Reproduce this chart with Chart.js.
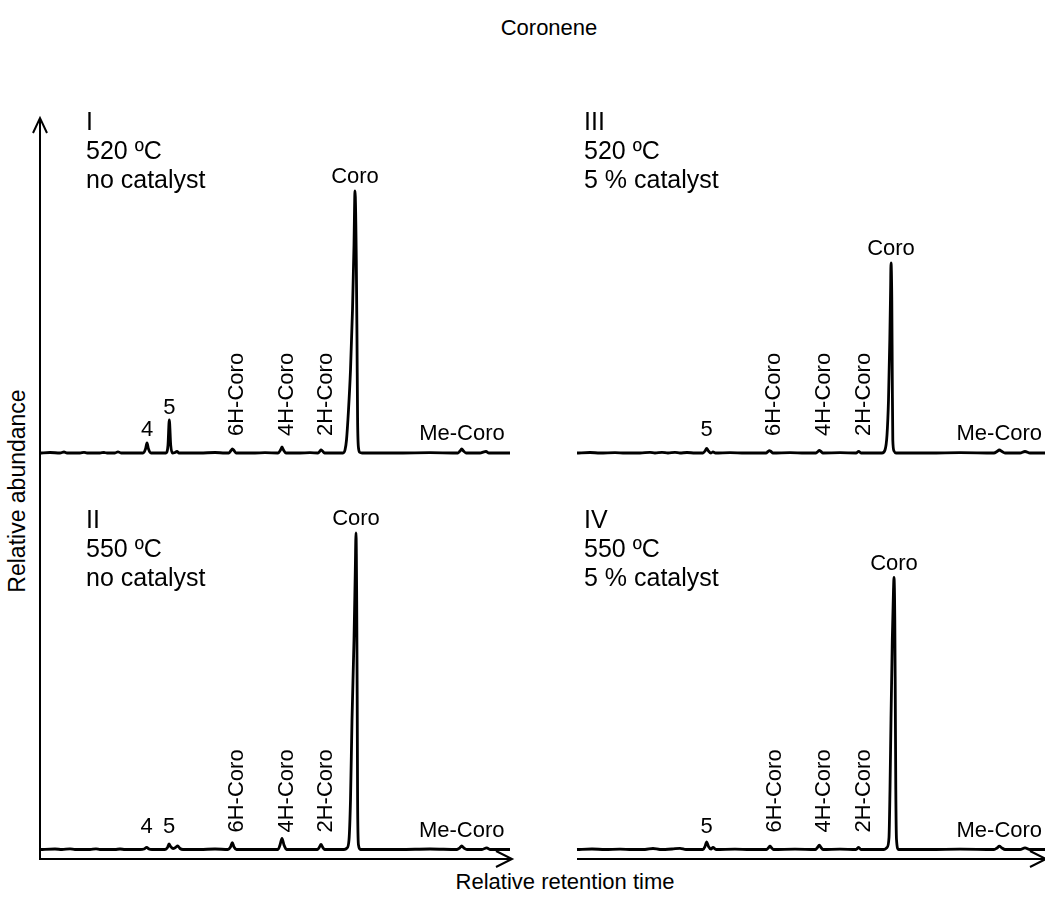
<!DOCTYPE html>
<html>
<head>
<meta charset="utf-8">
<title>Coronene</title>
<script src="https://cdn.jsdelivr.net/npm/chart.js@4.4.1/dist/chart.umd.min.js"></script>
<style>
  html, body { margin: 0; padding: 0; background: #fff; overflow: hidden; }
  #figure { position: relative; width: 1045px; height: 899px; overflow: hidden;
            font-family: Arial, 'Liberation Sans', sans-serif; color: #000; }
  #figure canvas { position: absolute; }
  .txt { position: absolute; white-space: nowrap; }
  .title { left: 549px; top: 28px; font-size: 22px; line-height: 22px; transform: translate(-50%, -50%); }
  .ytitle { left: 17px; top: 491px; font-size: 23px; line-height: 23px; transform: translate(-50%, -50%) rotate(-90deg); }
  .xtitle { left: 565px; top: 882px; font-size: 22px; line-height: 22px; transform: translate(-50%, -50%); }
  .head { font-size: 25px; line-height: 29px; }
</style>
</head>
<body>
<div id="figure">
  <div class="txt title">Coronene</div>
  <div class="txt ytitle">Relative abundance</div>
  <div class="txt xtitle">Relative retention time</div>
</div>
<script>
// Chromatograms: [retention time (min), abundance (% of run II Coro peak)]
const runI = [
  [0.0, 0], [1.0, 0.16], [2.0, 0], [2.4, 0.32], [2.7, 0], [4.0, 0], [4.4, 0.22], [4.7, 0],
  [6.0, 0], [6.4, 0.16], [6.7, 0], [7.5, 0], [7.8, 0.38], [8.1, 0], [9.5, 0],
  [10.3, 0], [10.55, 1.26], [10.7, 3.15], [10.85, 1.26], [11.1, 0], [12.0, 0],
  [12.6, 0], [12.8, 2.52], [12.93, 10.41], [13.07, 2.52], [13.25, 0], [13.5, 0.16], [13.7, 0.47], [13.9, 0],
  [16.0, 0], [17.5, 0.16], [18.5, 0], [18.9, 0], [19.1, 0.79], [19.23, 1.26], [19.4, 0.79], [19.6, 0],
  [21.5, 0], [22.5, 0.09], [23.8, 0], [24.05, 0.95], [24.2, 1.89], [24.35, 0.95], [24.6, 0],
  [26.0, 0], [27.0, 0.09], [27.8, 0], [28.0, 0.63], [28.1, 0.95], [28.25, 0.63], [28.45, 0], [29.5, 0], [30.0, 0],
  [30.3, 0], [30.5, 0.95], [30.65, 4.10], [30.85, 13.56], [31.05, 26.18], [31.25, 45.11], [31.4, 65.62],
  [31.5, 82.65], [31.63, 60.88], [31.7, 35.65], [31.76, 10.41], [31.85, 1.58], [32.0, 0.16], [32.2, 0],
  [36.0, 0], [39.0, 0.09], [41.5, 0], [41.8, 0], [42.0, 0.63], [42.17, 1.26], [42.35, 0.63], [42.6, 0],
  [44.0, 0], [44.4, 0.38], [44.6, 0.47], [44.9, 0], [46.0, 0], [47.0, 0]
];
const runII = [
  [0.0, 0], [1.5, 0.16], [2.2, 0], [3.0, 0.22], [3.5, 0], [5.0, 0], [5.6, 0.22], [6.0, 0],
  [7.5, 0], [8.0, 0.16], [8.5, 0], [10.0, 0], [10.4, 0.16], [10.67, 0.69], [10.9, 0.16], [11.2, 0],
  [12.5, 0], [12.75, 0.63], [12.9, 1.74], [13.05, 0.95], [13.3, 0.32], [13.55, 0.63], [13.77, 1.10], [14.0, 0.32], [14.3, 0],
  [16.0, 0], [17.5, 0.16], [18.8, 0], [19.05, 0.79], [19.23, 2.15], [19.4, 0.79], [19.65, 0],
  [22.0, 0], [23.8, 0], [24.0, 1.42], [24.2, 3.53], [24.4, 1.42], [24.65, 0],
  [26.0, 0], [27.75, 0], [27.95, 0.79], [28.1, 1.64], [28.25, 0.79], [28.45, 0], [30.0, 0],
  [30.4, 0], [30.7, 0.47], [30.9, 3.00], [31.05, 15.62], [31.2, 40.85], [31.4, 66.09], [31.53, 88.17],
  [31.6, 99.84], [31.67, 78.71], [31.72, 47.16], [31.76, 15.62], [31.85, 1.42], [32.05, 0],
  [36.0, 0], [39.0, 0.16], [41.7, 0], [41.95, 0.47], [42.17, 1.10], [42.4, 0.47], [42.7, 0],
  [44.2, 0], [44.67, 0.54], [45.0, 0], [47.0, 0]
];
const runIII = [
  [0.0, 0], [1.3, 0.16], [2.3, 0], [3.8, 0.13], [4.8, 0], [6.3, 0], [7.3, 0.22], [7.8, 0],
  [8.5, 0.19], [9.1, 0], [9.8, 0.22], [10.3, 0], [11.0, 0.16], [11.8, 0],
  [12.6, 0], [12.8, 0.63], [12.97, 1.48], [13.15, 0.63], [13.4, 0], [13.6, 0.32], [13.85, 0],
  [15.3, 0.13], [16.8, 0], [18.9, 0], [19.1, 0.47], [19.23, 0.73], [19.4, 0.47], [19.6, 0],
  [21.3, 0.13], [22.8, 0], [23.9, 0], [24.1, 0.47], [24.23, 0.79], [24.4, 0.47], [24.6, 0],
  [26.3, 0.09], [27.9, 0], [28.17, 0.54], [28.4, 0], [29.8, 0],
  [30.5, 0], [30.8, 0.95], [31.0, 5.68], [31.15, 16.72], [31.28, 35.65], [31.36, 51.42],
  [31.4, 59.94], [31.48, 48.26], [31.53, 23.03], [31.58, 4.10], [31.7, 0.63], [31.9, 0],
  [35.3, 0], [38.3, 0.13], [41.7, 0], [42.0, 0.47], [42.23, 0.95], [42.5, 0.47], [42.8, 0],
  [44.3, 0], [44.8, 0.47], [45.3, 0], [47.0, 0]
];
const runIV = [
  [0.0, 0], [1.5, 0.16], [2.8, 0], [4.3, 0.13], [5.5, 0], [6.8, 0], [7.6, 0.32], [8.3, 0],
  [9.5, 0.16], [10.3, 0.38], [10.9, 0],
  [12.6, 0], [12.8, 0.95], [12.97, 2.43], [13.15, 0.95], [13.4, 0.16], [13.6, 0.63], [13.9, 0],
  [15.8, 0.13], [17.3, 0], [18.95, 0], [19.15, 0.54], [19.3, 1.04], [19.45, 0.54], [19.65, 0],
  [21.8, 0.13], [23.85, 0], [24.05, 0.63], [24.23, 1.36], [24.4, 0.63], [24.6, 0],
  [26.3, 0.13], [27.9, 0], [28.17, 0.63], [28.4, 0], [30.1, 0],
  [30.7, 0], [31.0, 0.63], [31.2, 3.79], [31.3, 18.93], [31.4, 41.01], [31.53, 66.25], [31.65, 82.02],
  [31.7, 85.80], [31.78, 72.56], [31.83, 47.32], [31.88, 18.93], [31.95, 3.15], [32.15, 0],
  [35.3, 0], [38.3, 0.13], [41.7, 0], [42.0, 0.47], [42.23, 1.04], [42.5, 0.47], [42.8, 0],
  [44.3, 0], [44.8, 0.54], [45.3, 0], [47.0, 0]
];

// Peak assignments: [name, retention time]
const peaksI = [['4', 10.7], ['5', 12.93], ['6H-Coro', 19.23], ['4H-Coro', 24.2], ['2H-Coro', 28.1], ['Coro', 31.5], ['Me-Coro', 42.2]];
const peaksII = [['4', 10.67], ['5', 12.9], ['6H-Coro', 19.23], ['4H-Coro', 24.2], ['2H-Coro', 28.1], ['Coro', 31.6], ['Me-Coro', 42.17]];
const peaksIII = [['5', 12.97], ['6H-Coro', 19.23], ['4H-Coro', 24.23], ['2H-Coro', 28.17], ['Coro', 31.4], ['Me-Coro', 42.23]];
const peaksIV = [['5', 12.97], ['6H-Coro', 19.3], ['4H-Coro', 24.23], ['2H-Coro', 28.17], ['Coro', 31.7], ['Me-Coro', 42.23]];

// Run conditions
const runNames = ['I', 'II', 'III', 'IV'];
const temperatures = ['520 ºC', '550 ºC', '520 ºC', '550 ºC'];
const catalysts = ['no catalyst', 'no catalyst', '5 % catalyst', '5 % catalyst'];

const PX_PER_UNIT = 3.17;   // vertical scale shared by all four runs
const T_MAX = 47;

const panels = [
  { run: runI,   peaks: peaksI,   left: 30,  top: 110, height: 355, base: 343,   padBottom: 0,  yAxis: 'top',  xAxis: null },
  { run: runII,  peaks: peaksII,  left: 30,  top: 465, height: 410, base: 384.5, padBottom: 16, yAxis: 'rest', xAxis: 2 },
  { run: runIII, peaks: peaksIII, left: 567, top: 110, height: 355, base: 343,   padBottom: 0,  yAxis: null,   xAxis: null },
  { run: runIV,  peaks: peaksIV,  left: 567, top: 465, height: 410, base: 384.5, padBottom: 16, yAxis: null,   xAxis: -1 }
];
const headPos = [[86, 107], [86, 505], [584, 107], [584, 505]];

function chevron(ctx, tx, ty, dx, dy) {
  ctx.beginPath();
  ctx.moveTo(tx + dx[0], ty + dy[0]);
  ctx.lineTo(tx, ty);
  ctx.lineTo(tx + dx[1], ty + dy[1]);
  ctx.stroke();
}

// axis arrows drawn around the chart area
const axisArrows = {
  id: 'axisArrows',
  afterDraw(chart, args, opts) {
    const { ctx, chartArea: a } = chart;
    ctx.save();
    ctx.strokeStyle = '#000';
    ctx.lineWidth = 2;
    ctx.lineCap = 'butt';
    if (opts.y === 'top') {
      ctx.beginPath();
      ctx.moveTo(a.left, 8);
      ctx.lineTo(a.left, chart.height);
      ctx.stroke();
      chevron(ctx, a.left, 8, [-7, 7], [15, 15]);
    } else if (opts.y === 'rest') {
      ctx.beginPath();
      ctx.moveTo(a.left, 0);
      ctx.lineTo(a.left, a.bottom);
      ctx.stroke();
    }
    if (opts.x !== null && opts.x !== undefined) {
      const tip = a.right + opts.x;
      ctx.beginPath();
      ctx.moveTo(opts.y === 'rest' ? a.left - 1 : a.left, a.bottom);
      ctx.lineTo(tip, a.bottom);
      ctx.stroke();
      chevron(ctx, tip, a.bottom, [-16, -16], [-8, 8]);
    }
    ctx.restore();
  }
};

// peak names placed over the trace
const peakNames = {
  id: 'peakNames',
  afterDatasetsDraw(chart, args, opts) {
    const { ctx, scales: { x, y } } = chart;
    const pts = chart.data.datasets[0].data;
    const base = y.getPixelForValue(0);
    ctx.save();
    ctx.fillStyle = '#000';
    ctx.font = opts.font;
    opts.items.forEach(([name, t]) => {
      const px = x.getPixelForValue(t);
      if (/H-Coro/.test(name)) {
        ctx.save();
        ctx.translate(px + 5, base - 17);
        ctx.rotate(-Math.PI / 2);
        ctx.textAlign = 'left';
        ctx.textBaseline = 'middle';
        ctx.fillText(name, 0, 0);
        ctx.restore();
        return;
      }
      const near = pts.filter(p => Math.abs(p.x - t) < 0.3).map(p => p.y);
      const apex = y.getPixelForValue(Math.max(0, ...near));
      let py;
      if (name === 'Coro') py = apex - 8;
      else if (name === 'Me-Coro') py = base - 13;
      else py = Math.min(apex - 6, base - 17);
      ctx.textAlign = 'center';
      ctx.textBaseline = 'alphabetic';
      ctx.fillText(name, px, py);
    });
    ctx.restore();
  }
};

const fig = document.getElementById('figure');

panels.forEach((p, i) => {
  const canvas = document.createElement('canvas');
  canvas.width = 490;
  canvas.height = p.height;
  canvas.style.left = p.left + 'px';
  canvas.style.top = p.top + 'px';
  fig.appendChild(canvas);

  const areaBottom = p.height - p.padBottom;
  new Chart(canvas.getContext('2d'), {
    type: 'line',
    data: {
      datasets: [{
        data: p.run.map(([t, a]) => ({ x: t, y: a })),
        borderColor: '#000',
        borderWidth: 2.8,
        pointRadius: 0,
        cubicInterpolationMode: 'monotone',
        fill: false,
        clip: false
      }]
    },
    options: {
      responsive: false,
      animation: false,
      devicePixelRatio: 1,
      layout: { padding: { left: 10, right: 10, top: 0, bottom: p.padBottom } },
      scales: {
        x: { type: 'linear', min: 0, max: T_MAX, display: false },
        y: { min: -(areaBottom - p.base) / PX_PER_UNIT, max: p.base / PX_PER_UNIT, display: false }
      },
      plugins: {
        legend: { display: false },
        tooltip: { enabled: false },
        axisArrows: { y: p.yAxis, x: p.xAxis },
        peakNames: { items: p.peaks, font: "22px Arial, 'Liberation Sans', sans-serif" }
      }
    },
    plugins: [axisArrows, peakNames]
  });

  const head = document.createElement('div');
  head.className = 'txt head';
  head.style.left = headPos[i][0] + 'px';
  head.style.top = headPos[i][1] + 'px';
  head.innerHTML = [runNames[i], temperatures[i], catalysts[i]].join('<br>');
  fig.appendChild(head);
});
</script>
</body>
</html>
